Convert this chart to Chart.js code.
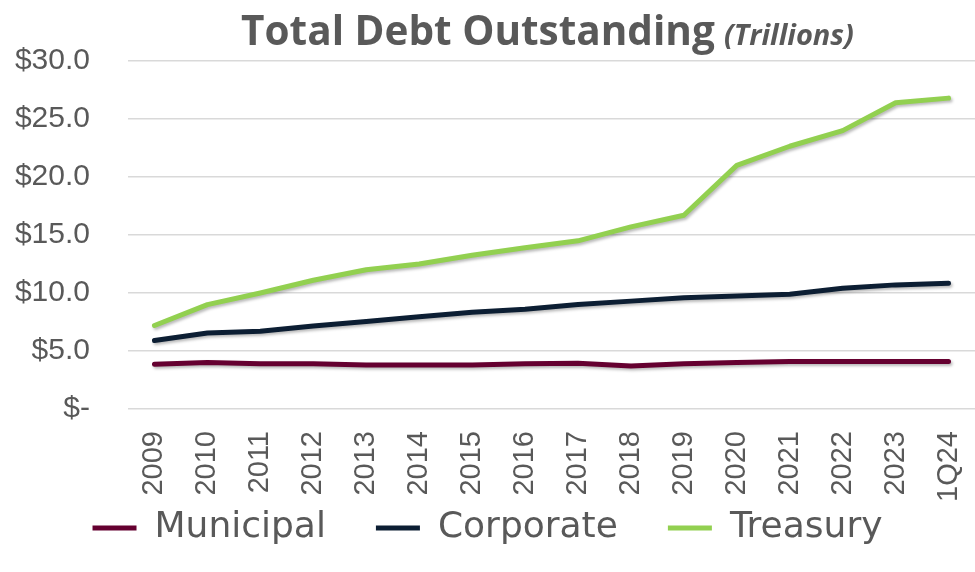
<!DOCTYPE html>
<html><head><meta charset="utf-8">
<script src="https://cdn.jsdelivr.net/npm/chart.js@4.4.1/dist/chart.umd.min.js"></script>
<style>
html,body{margin:0;padding:0;background:#fff;}
#wrap{position:relative;width:975px;height:572px;overflow:hidden;}
#title{position:absolute;left:124px;width:847px;top:9px;line-height:41px;text-align:center;color:#595959;white-space:nowrap;font-family:'Open Sans',sans-serif;z-index:2;}
#title .main{font-weight:700;font-size:40.5px;}
#title .sub{font-weight:700;font-style:italic;font-size:29px;margin-left:5px;}
canvas{position:absolute;left:0;top:0;}
</style></head><body>
<div id="wrap">
<div id="title"><span class="main">Total Debt Outstanding</span> <span class="sub">(Trillions)</span></div>
<canvas id="c" width="975" height="572"></canvas>
</div>
<script>
const categories = ['2009','2010','2011','2012','2013','2014','2015','2016','2017','2018','2019','2020','2021','2022','2023','1Q24'];
const municipal = [3.85,4.0,3.9,3.9,3.8,3.8,3.8,3.9,3.95,3.7,3.9,4.0,4.1,4.1,4.1,4.1];
const corporate = [5.9,6.55,6.7,7.15,7.55,7.95,8.35,8.6,9.0,9.3,9.6,9.75,9.9,10.4,10.7,10.85];
const treasury = [7.2,9.0,10.0,11.1,12.0,12.5,13.25,13.9,14.5,15.7,16.7,21.0,22.65,24.0,26.4,26.8];
const yTicks = [0,5,10,15,20,25,30];

const shadowPlugin = {
  id:'lineShadow',
  beforeDatasetsDraw(chart){ const c=chart.ctx; c.save(); c.shadowColor='rgba(0,0,0,0.28)'; c.shadowBlur=3; c.shadowOffsetX=1.5; c.shadowOffsetY=2; },
  afterDatasetsDraw(chart){ chart.ctx.restore(); }
};
// Let the legend's drawing box extend upward so its large side padding does not shrink the plot.
const legendShift = {
  id:'legendShift',
  afterLayout(chart){ const lg = chart.legend; if(!lg) return; lg.top = 460; lg.bottom = 572; lg.height = 112; }
};

const tickFont = "'Liberation Sans', Arial, sans-serif";
const legendFont = "'DejaVu Sans', sans-serif";
function ds(label, data, color){
  return {label, data, borderColor:color, backgroundColor:color, borderWidth:5, pointRadius:0, pointHoverRadius:0, tension:0, borderCapStyle:'round', borderJoinStyle:'round', fill:false};
}
new Chart(document.getElementById('c'), {
  type:'line',
  data:{ labels:categories, datasets:[ ds('Municipal', municipal, '#650030'), ds('Corporate', corporate, '#0c1e33'), ds('Treasury', treasury, '#92d050') ] },
  plugins:[shadowPlugin, legendShift],
  options:{
    responsive:false, animation:false,
    layout:{ padding:{ top:61, right:0, bottom:0, left:0 } },
    plugins:{
      title:{display:false},
      tooltip:{enabled:false},
      legend:{ position:'bottom', align:'center', maxHeight:67,
        labels:{ usePointStyle:true, pointStyle:'line', pointStyleWidth:44, color:'#595959', font:{family:legendFont, size:36}, padding:50 } }
    },
    scales:{
      x:{ offset:true, grid:{display:false, drawTicks:false}, border:{display:false},
          ticks:{ color:'#595959', font:{family:tickFont, size:29}, minRotation:90, maxRotation:90, padding:22, autoSkip:false },
          afterFit(s){ s.height = 96; s.paddingLeft = 0; s.paddingRight = 0; } },
      y:{ min:0, max:30, grid:{color:'#d9d9d9', lineWidth:1.5, drawTicks:false}, border:{display:false},
          afterBuildTicks(s){ s.ticks = yTicks.map(v=>({value:v})); },
          ticks:{ color:'#595959', font:{family:tickFont, size:30}, padding:38,
                  callback:(v)=> v===0 ? '$-' : '$'+Number(v).toFixed(1) },
          afterFit(s){ s.width = 128; s.paddingTop = 0; s.paddingBottom = 0; } }
    }
  }
});
</script>
</body></html>
